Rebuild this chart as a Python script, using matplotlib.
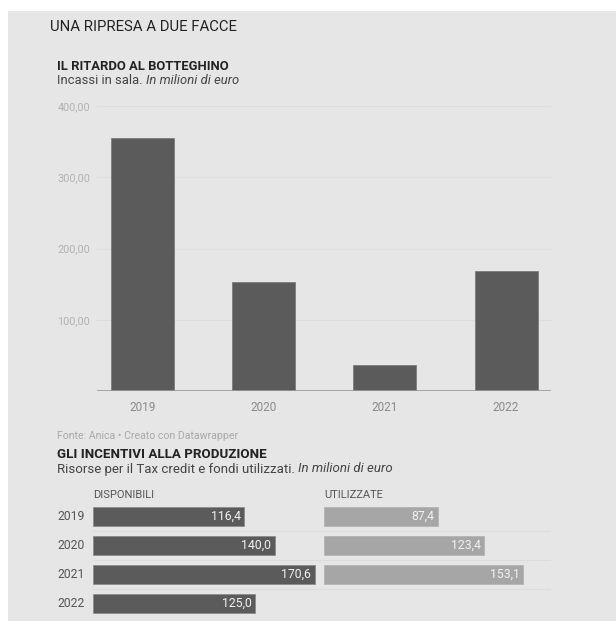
import matplotlib
matplotlib.use("Agg")
import matplotlib.pyplot as plt
from matplotlib.patches import Rectangle

# box office (top chart)
anni = ["2019", "2020", "2021", "2022"]
incassi = [355.0, 153.0, 36.5, 168.5]
tick_vals = [100, 200, 300, 400]

# tax credit (bottom chart)
anni_tc = ["2019", "2020", "2021", "2022"]
disponibili = [116.4, 140.0, 170.6, 125.0]
utilizzate = [87.4, 123.4, 153.1, None]

W, H = 616, 621
BG = "#e6e6e6"
DARK = "#5b5b5b"
LIGHT = "#a6a6a6"

plt.rcParams["font.family"] = ["Roboto", "DejaVu Sans"]

fig = plt.figure(figsize=(W / 100, H / 100), dpi=100)
fig.patch.set_facecolor("white")
fig.patches.append(Rectangle((8 / W, 0), 1, 1 - 11 / H, transform=fig.transFigure,
                             facecolor=BG, edgecolor="none", zorder=-10))


def fx(px):
    return px / W


def fy(py):
    return 1 - py / H


def box(x0, y0, x1, y1):
    # pixel box (top-left origin) -> figure rect
    return [fx(x0), fy(y1), (x1 - x0) / W, (y1 - y0) / H]


def two_part(x, y, plain, italic, size):
    t = fig.text(fx(x), fy(y), plain, fontsize=size, color="#444444", va="center")
    fig.canvas.draw()
    bb = t.get_window_extent()
    fig.text(bb.x1 / W, fy(y), italic, fontsize=size, color="#444444",
             va="center", style="italic")


# texts
fig.text(fx(50), fy(27), "UNA RIPRESA A DUE FACCE", fontsize=10.7, color="#222222", va="center")
fig.text(fx(57), fy(66), "IL RITARDO AL BOTTEGHINO", fontsize=9.4, fontweight="bold",
         color="#222222", va="center")
two_part(57, 81, "Incassi in sala. ", "In milioni di euro", 9.4)

# top chart
ax = fig.add_axes(box(97, 106, 551, 391))
ax.set_facecolor("none")
x = list(range(len(anni)))
ax.bar(x, incassi, width=0.52, color=DARK, edgecolor="#7d7d7d", linewidth=0.6, zorder=3)
ax.set_xlim(-0.375, 3.371)
ax.set_ylim(0, 400)
ax.set_yticks(tick_vals)
ax.set_yticklabels([f"{v:.2f}".replace(".", ",") for v in tick_vals])
ax.set_xticks(x)
ax.set_xticklabels(anni)
ax.tick_params(axis="y", length=0, pad=5, labelsize=7.8, labelcolor="#b2b2b2")
ax.tick_params(axis="x", length=0, pad=7, labelsize=8.5, labelcolor="#8a8a8a")
for v in tick_vals:
    ax.axhline(v, color="#dddddd", linewidth=0.8, zorder=1)
ax.axhline(0, color="#9a9a9a", linewidth=1.2, zorder=4)
for s in ax.spines.values():
    s.set_visible(False)

# source + second title
fig.text(fx(57), fy(436), "Fonte: Anica \u2022 Creato con Datawrapper", fontsize=7.6,
         color="#a8a8a8", va="center")
fig.text(fx(57), fy(454), "GLI INCENTIVI ALLA PRODUZIONE", fontsize=9.6, fontweight="bold",
         color="#222222", va="center")
two_part(57, 469, "Risorse per il Tax credit e fondi utilizzati. ", "In milioni di euro", 9.5)

fig.text(fx(93), fy(495), "DISPONIBILI", fontsize=8, color="#555555", va="center")
fig.text(fx(324), fy(495), "UTILIZZATE", fontsize=8, color="#555555", va="center")

# separators
axs = fig.add_axes(box(93, 501.5, 551, 618))
axs.set_xlim(0, 1)
axs.set_ylim(3.5, -0.5)
axs.axis("off")
for yv in [0.5, 1.5, 2.5]:
    axs.axhline(yv, color="#dcdcdc", linewidth=0.8)

rows = list(range(len(anni_tc)))
for i, lab in enumerate(anni_tc):
    fig.text(fx(57), fy(516 + i * 29.1), lab, fontsize=8.7, color="#555555", va="center")


def hbars(rect, vals, col):
    a = fig.add_axes(rect)
    a.set_facecolor("none")
    a.set_xlim(0, 174.7)
    a.set_ylim(3.5, -0.5)
    a.axis("off")
    for r, v in zip(rows, vals):
        if v is None:
            continue
        a.barh(r, v, height=0.65, color=col, edgecolor="#8c8c8c" if col == DARK else "#b4b4b4",
               linewidth=0.6)
        a.annotate(f"{v:.1f}".replace(".", ","), xy=(v, r), xytext=(-2.5, 0),
                   textcoords="offset points", ha="right", va="center",
                   fontsize=8.8, color="#f2f2f2")
    return a


hbars(box(93, 501.5, 320, 618), disponibili, DARK)
hbars(box(324, 501.5, 551, 618), utilizzate, LIGHT)

fig.savefig("out.png", dpi=100, facecolor=fig.get_facecolor())
